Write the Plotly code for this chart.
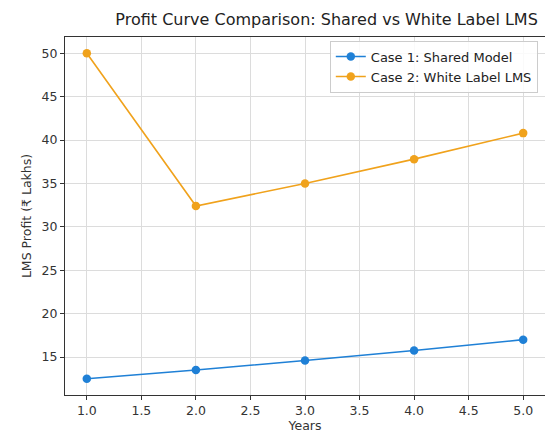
import plotly.graph_objects as go

years = [1, 2, 3, 4, 5]
case1_profit = [12.5, 13.5, 14.6, 15.75, 17.0]
case2_profit = [50.0, 32.4, 35.0, 37.8, 40.8]
series_names = ["Case 1: Shared Model", "Case 2: White Label LMS"]
x_ticks = [1.0, 1.5, 2.0, 2.5, 3.0, 3.5, 4.0, 4.5, 5.0]
y_ticks = [15, 20, 25, 30, 35, 40, 45, 50]

blue = "#1f80d6"
orange = "#f0a21c"
font = "DejaVu Sans"

fig = go.Figure()
fig.add_trace(go.Scatter(x=years, y=case1_profit, mode="lines+markers", name=series_names[0],
                         line=dict(color=blue, width=1.6), marker=dict(color=blue, size=8.5)))
fig.add_trace(go.Scatter(x=years, y=case2_profit, mode="lines+markers", name=series_names[1],
                         line=dict(color=orange, width=1.6), marker=dict(color=orange, size=8.5)))

allv = case1_profit + case2_profit
span = max(allv) - min(allv)
ymin, ymax = min(allv) - 0.05 * span, max(allv) + 0.05 * span
xspan = max(years) - min(years)
xmin, xmax = min(years) - 0.05 * xspan, max(years) + 0.05 * xspan

axis_common = dict(showline=True, linecolor="#333333", linewidth=1, mirror=True,
                   ticks="outside", ticklen=4, tickcolor="#333333", automargin=False,
                   showgrid=True, gridcolor="#dcdcdc", gridwidth=1, zeroline=False,
                   tickfont=dict(family=font, size=12.5, color="#333333"))

# page body has an 8px margin, so the figure is sized/placed to compensate
W, H = 545, 425
fig.update_layout(
    width=W, height=H,
    margin=dict(l=57, r=8, t=29, b=38, autoexpand=False),
    paper_bgcolor="white", plot_bgcolor="white",
    font=dict(family=font, color="#222222"),
    title=dict(text="Profit Curve Comparison: Shared vs White Label LMS",
               x=(57 + 537) / 2 / W, xref="paper", xanchor="center", y=1 - 11 / H, yanchor="middle",
               font=dict(family=font, size=16, color="#222222")),
    xaxis=dict(range=[xmin, xmax], tickvals=x_ticks, ticktext=[f"{v:.1f}" for v in x_ticks],
               title=dict(text="Years", standoff=2, font=dict(family=font, size=12.5, color="#333333")),
               **axis_common),
    yaxis=dict(range=[ymin, ymax], tickvals=y_ticks,
               title=dict(text="LMS Profit (₹ Lakhs)", standoff=7, font=dict(family=font, size=12.5, color="#333333")),
               **axis_common),
    legend=dict(x=0.985, y=0.99, xanchor="right", yanchor="top",
                bgcolor="rgba(255,255,255,0.85)", bordercolor="#cccccc", borderwidth=1,
                font=dict(family=font, size=13, color="#222222"), tracegroupgap=0),
    showlegend=True,
)

fig.write_html("out.html")
